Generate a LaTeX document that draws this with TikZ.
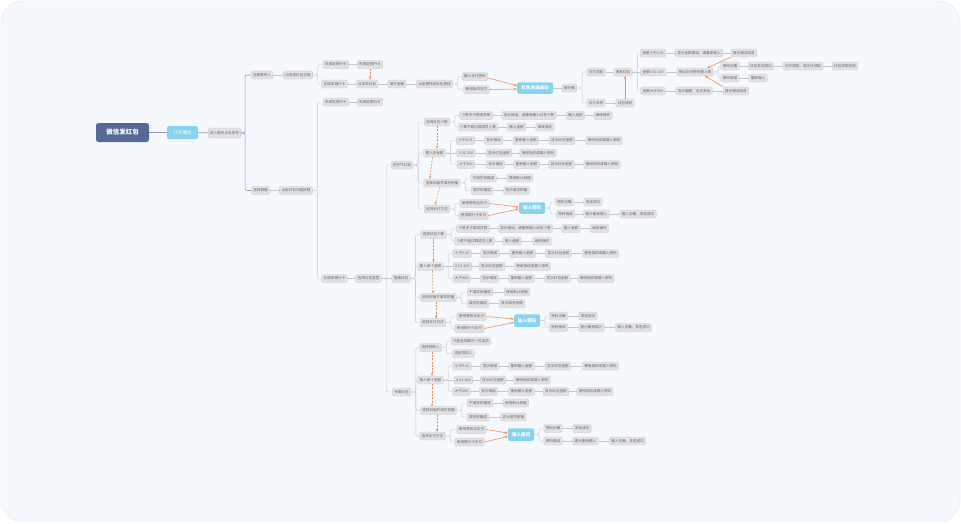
\documentclass[tikz,border=0pt]{standalone}
\usepackage{fontspec}
\setmainfont{Noto Sans CJK SC}
\usetikzlibrary{arrows.meta}

\definecolor{panelbg}{RGB}{245,249,254}
\definecolor{panelline}{RGB}{228,234,243}
\definecolor{rootblue}{RGB}{86,105,148}
\definecolor{skyblue}{RGB}{136,212,238}
\definecolor{boxfill}{RGB}{226,226,228}
\definecolor{boxline}{RGB}{196,197,201}
\definecolor{boxtext}{RGB}{100,100,105}
\definecolor{linkgray}{RGB}{192,200,214}
\definecolor{trunkblue}{RGB}{140,154,184}
\definecolor{floworange}{RGB}{241,138,78}

\begin{document}
\begin{tikzpicture}[
        x=1pt, y=-1pt,
        box/.style={draw=boxline, fill=boxfill, rounded corners=1.5pt, line width=0.35pt,
            inner xsep=2pt, inner ysep=0pt, minimum height=8pt,
            font=\fontsize{3.6}{4}\selectfont, text=boxtext},
        rootbox/.style={fill=rootblue, rounded corners=2.5pt, minimum width=53pt, minimum height=19pt,
            font=\fontsize{6.5}{7}\selectfont\bfseries, text=white},
        skybox/.style={fill=skyblue, rounded corners=2pt, minimum width=26pt, minimum height=11.5pt,
            inner xsep=3pt, font=\fontsize{4.5}{5}\selectfont\bfseries, text=white},
        link/.style={draw=linkgray, line width=0.4pt, rounded corners=2pt},
        trunk/.style={link, draw=trunkblue, line width=0.6pt},
        flow/.style={-{Stealth[length=2.8pt, width=2.4pt]}, draw=floworange, line width=0.55pt},
        seq/.style={flow, dash pattern=on 2pt off 1.3pt}
    ]
    \useasboundingbox (0,0) rectangle (961,523);
    \fill[white] (0,0) rectangle (961,523);
    \draw[panelline, fill=panelbg, rounded corners=22pt] (1,1) rectangle (960,522);

    % --- 主干 ---
    \node[rootbox] (root) at (122.5,132.5) {微信发红包};
    \node[skybox, minimum width=31pt, minimum height=13pt, font=\fontsize{4.6}{5}\selectfont] (open) at (182.5,132.5) {打开微信};
    \node[box, minimum height=10pt] (plus) at (224.5,133) {进入聊天点击加号};

    % --- 联系人 ---
    \node[box] (A1) at (262,75) {选择联系人};
    \node[box] (A2) at (298,75) {点击发红包功能};
    \node[box] (A3) at (336,64.5) {未绑定银行卡};
    \node[box] (A4) at (370,64.5) {先绑定银行卡};
    \node[box] (A5) at (334.5,84) {已绑定银行卡};
    \node[box] (A6) at (367,84) {点击发红包};
    \node[box] (A7) at (397,84) {填写金额};
    \node[box] (A8) at (434.5,84) {点击塞钱进红包按钮};
    \node[box] (A9) at (475,76.5) {输入支付密码};
    \node[box] (A10) at (476.5,89.5) {使用指纹支付};
    \node[skybox, minimum width=36pt] (A11) at (535,88) {红包发送成功};
    \node[box] (A12) at (569.5,88) {聊天框};
    \node[box] (A13) at (596,72) {对方领取};
    \node[box] (A14) at (596,103) {对方未领};
    \node[box] (A15) at (623,72) {再发红包};
    \node[box] (A16) at (625,103) {红包退回};
    \node[box] (A17) at (653,53) {金额小于0.01};
    \node[box] (A18) at (653,72) {金额0.01-200};
    \node[box] (A19) at (653,91) {金额大于200};
    \node[box] (A20) at (699,53) {显示金额错误，请重新输入};
    \node[box] (A21) at (744,53) {提示错误信息};
    \node[box] (A22) at (695,72) {弹出支付密码输入框};
    \node[box] (A23) at (730,66) {密码正确};
    \node[box] (A24) at (761,66) {红包发送成功};
    \node[box] (A25) at (803,66) {对方领取，显示已领取};
    \node[box] (A26) at (845,66) {红包领取完成};
    \node[box] (A27) at (730,78) {密码错误};
    \node[box] (A28) at (758,78) {重新输入};
    \node[box] (A29) at (694,91) {显示超额，无法发出};
    \node[box] (A30) at (736,91) {提示错误信息};

    % --- 群聊 ---
    \node[box] (B1) at (260.5,190.5) {选择群聊};
    \node[box] (B2) at (296,190.5) {点击红包功能按钮};
    \node[box] (B3) at (336,102) {未绑定银行卡};
    \node[box] (B4) at (370,102) {先绑定银行卡};
    \node[box] (B5) at (334.5,278.5) {已绑定银行卡};
    \node[box] (B6) at (368.5,278.5) {选择红包类型};
    \node[box] (C0) at (402,165) {拼手气红包};
    \node[box] (D0) at (401,278.5) {普通红包};
    \node[box] (E0) at (401.5,392) {专属红包};

    % --- 拼手气红包 ---
    \node[box] (C1) at (437,122) {选择红包个数};
    \node[box] (C2) at (434.5,153) {输入总金额};
    \node[box] (C3) at (442,183) {选择封面并填写祝福};
    \node[box] (C4) at (437,209) {选择支付方式};
    \node[box] (C1a) at (476,115.5) {个数多于群成员数};
    \node[box] (C1b) at (529,115.5) {显示错误，请重新输入红包个数};
    \node[box] (C1c) at (575.5,115.5) {输入金额};
    \node[box] (C1d) at (603,115.5) {继续操作};
    \node[box] (C1e) at (478,127) {个数不超过群成员人数};
    \node[box] (C1f) at (516.5,127) {输入金额};
    \node[box] (C1g) at (545,127) {继续操作};
    \node[box] (C2a) at (465.5,140.5) {小于0.01};
    \node[box] (C2b) at (493.5,140.5) {显示错误};
    \node[box] (C2c) at (526,140.5) {重新输入金额};
    \node[box] (C2d) at (562,140.5) {显示红包金额};
    \node[box] (C2e) at (604,140.5) {使用指纹或输入密码};
    \node[box] (C2f) at (466,153) {0.01-200};
    \node[box] (C2g) at (499,153) {显示红包金额};
    \node[box] (C2h) at (538,153) {使用指纹或输入密码};
    \node[box] (C2i) at (466,164.5) {大于200};
    \node[box] (C2j) at (495.5,164.5) {显示错误};
    \node[box] (C2k) at (526.5,164.5) {重新输入金额};
    \node[box] (C2l) at (561.5,164.5) {显示红包金额};
    \node[box] (C2m) at (602,164.5) {使用指纹或输入密码};
    \node[box] (C3a) at (483.5,178) {不填写祝福语};
    \node[box] (C3b) at (520,178) {使用默认祝福};
    \node[box] (C3c) at (482,190.5) {填写祝福语};
    \node[box] (C3d) at (516.5,190.5) {显示填写祝福};
    \node[box] (C4a) at (474.5,203.5) {使用零钱包支付};
    \node[box] (C4b) at (473.5,215.5) {使用银行卡支付};
    \node[skybox] (C5) at (532,208) {输入密码};
    \node[box] (C5a) at (564.5,202) {密码正确};
    \node[box] (C5b) at (593,202) {发送成功};
    \node[box] (C5c) at (565.5,214) {密码错误};
    \node[box] (C5d) at (596.5,214) {提示重新输入};
    \node[box] (C5e) at (638,214) {输入正确，发送成功};

    % --- 普通红包 ---
    \node[box] (D1) at (433.5,234.5) {选择红包个数};
    \node[box] (D2) at (430.5,266.5) {输入单个金额};
    \node[box] (D3) at (438,297.5) {选择封面并填写祝福};
    \node[box] (D4) at (433,322.5) {选择支付方式};
    \node[box] (D1a) at (473,228.5) {个数多于群成员数};
    \node[box] (D1b) at (525.5,228.5) {显示错误，请重新输入红包个数};
    \node[box] (D1c) at (571,228.5) {输入金额};
    \node[box] (D1d) at (599.5,228.5) {继续操作};
    \node[box] (D1e) at (474.5,241) {个数不超过群成员人数};
    \node[box] (D1f) at (512,241) {输入金额};
    \node[box] (D1g) at (542,241) {继续操作};
    \node[box] (D2a) at (462,253.5) {小于0.01};
    \node[box] (D2b) at (490,253.5) {显示错误};
    \node[box] (D2c) at (522.5,253.5) {重新输入金额};
    \node[box] (D2d) at (558.5,253.5) {显示红包金额};
    \node[box] (D2e) at (600.5,253.5) {使用指纹或输入密码};
    \node[box] (D2f) at (462.5,266.5) {0.01-200};
    \node[box] (D2g) at (492,266.5) {显示红包金额};
    \node[box] (D2h) at (532.5,266.5) {使用指纹或输入密码};
    \node[box] (D2i) at (461.5,278.5) {大于200};
    \node[box] (D2j) at (489.5,278.5) {显示错误};
    \node[box] (D2k) at (521.5,278.5) {重新输入金额};
    \node[box] (D2l) at (557.5,278.5) {显示红包金额};
    \node[box] (D2m) at (596,278.5) {使用指纹或输入密码};
    \node[box] (D3a) at (480,292) {不填写祝福语};
    \node[box] (D3b) at (517,292) {使用默认祝福};
    \node[box] (D3c) at (478,303.5) {填写祝福语};
    \node[box] (D3d) at (512,303.5) {显示填写祝福};
    \node[box] (D4a) at (471.5,316.5) {使用零钱包支付};
    \node[box] (D4b) at (469.5,328.5) {使用银行卡支付};
    \node[skybox, minimum height=12.5pt] (D5) at (527,320.5) {输入密码};
    \node[box] (D5a) at (558.5,316) {密码正确};
    \node[box] (D5b) at (588,316) {发送成功};
    \node[box] (D5c) at (558.5,327.5) {密码错误};
    \node[box] (D5d) at (591.5,327.5) {提示重新输入};
    \node[box] (D5e) at (633.5,327.5) {输入正确，发送成功};

    % --- 专属红包 ---
    \node[box] (E1) at (430.5,347.5) {选择领取人};
    \node[box] (E2) at (430.5,380) {输入单个金额};
    \node[box] (E3) at (438.5,410.5) {选择封面并填写祝福};
    \node[box] (E4) at (432.5,436) {选择支付方式};
    \node[box] (E1a) at (471,341) {只能选择群内一位成员};
    \node[box] (E1b) at (463.5,353.5) {选定领取人};
    \node[box] (E2a) at (462,366) {小于0.01};
    \node[box] (E2b) at (490,366) {显示错误};
    \node[box] (E2c) at (521.5,366) {重新输入金额};
    \node[box] (E2d) at (558,366) {显示红包金额};
    \node[box] (E2e) at (600.5,366) {使用指纹或输入密码};
    \node[box] (E2f) at (463.5,380) {0.01-200};
    \node[box] (E2g) at (493,380) {显示红包金额};
    \node[box] (E2h) at (532,380) {使用指纹或输入密码};
    \node[box] (E2i) at (461.5,391.5) {大于200};
    \node[box] (E2j) at (488.5,391.5) {显示错误};
    \node[box] (E2k) at (521.5,391.5) {重新输入金额};
    \node[box] (E2l) at (556,391.5) {显示红包金额};
    \node[box] (E2m) at (595,391.5) {使用指纹或输入密码};
    \node[box] (E3a) at (480,403) {不填写祝福语};
    \node[box] (E3b) at (516,403) {使用默认祝福};
    \node[box] (E3c) at (478,417) {填写祝福语};
    \node[box] (E3d) at (513.5,417) {显示填写祝福};
    \node[box] (E4a) at (471.5,429.5) {使用零钱包支付};
    \node[box] (E4b) at (469.5,442) {使用银行卡支付};
    \node[skybox, minimum height=12.5pt] (E5) at (521,434.5) {输入密码};
    \node[box] (E5a) at (553,428.5) {密码正确};
    \node[box] (E5b) at (582,428.5) {发送成功};
    \node[box] (E5c) at (553,441) {密码错误};
    \node[box] (E5d) at (585.5,441) {提示重新输入};
    \node[box] (E5e) at (627.5,441) {输入正确，发送成功};

    % --- 连线 ---
    \draw[trunk] (root) -- (open);
    \draw[trunk] (open) -- (plus);
    \draw[trunk] (plus.east) -- ++(4,0) |- (A1.west);
    \draw[trunk] (plus.east) -- ++(4,0) |- (B1.west);

    \foreach \a/\b in {A1/A2, A3/A4, A5/A6, A6/A7, A7/A8, A11/A12, A13/A15, A14/A16,
            A15/A18, A17/A20, A20/A21, A18/A22, A23/A24, A24/A25, A25/A26, A27/A28,
            A19/A29, A29/A30, B1/B2, B3/B4, B5/B6, B6/D0,
            C1a/C1b, C1b/C1c, C1c/C1d, C1e/C1f, C1f/C1g, C2a/C2b, C2b/C2c, C2c/C2d, C2d/C2e,
            C2/C2f, C2f/C2g, C2g/C2h, C2i/C2j, C2j/C2k, C2k/C2l, C2l/C2m, C3a/C3b, C3c/C3d,
            C5a/C5b, C5c/C5d, C5d/C5e,
            D1a/D1b, D1b/D1c, D1c/D1d, D1e/D1f, D1f/D1g, D2a/D2b, D2b/D2c, D2c/D2d, D2d/D2e,
            D2/D2f, D2f/D2g, D2g/D2h, D2i/D2j, D2j/D2k, D2k/D2l, D2l/D2m, D3a/D3b, D3c/D3d,
            D5a/D5b, D5c/D5d, D5d/D5e,
            E2a/E2b, E2b/E2c, E2c/E2d, E2d/E2e, E2/E2f, E2f/E2g, E2g/E2h,
            E2i/E2j, E2j/E2k, E2k/E2l, E2l/E2m, E3a/E3b, E3c/E3d,
            E5a/E5b, E5c/E5d, E5d/E5e}
        \draw[link] (\a) -- (\b);

    \foreach \a/\b in {A2/A3, A2/A5, A8/A9, A8/A10, A12/A13, A12/A14, A15/A17, A15/A19,
            A22/A23, A22/A27, B2/B3, B2/B5, B6/C0, B6/E0,
            C0/C1, C0/C2, C0/C3, C0/C4, C1/C1a, C1/C1e, C2/C2a, C2/C2i, C3/C3a, C3/C3c,
            C4/C4a, C4/C4b, C5/C5a, C5/C5c,
            D0/D1, D0/D2, D0/D3, D0/D4, D1/D1a, D1/D1e, D2/D2a, D2/D2i, D3/D3a, D3/D3c,
            D4/D4a, D4/D4b, D5/D5a, D5/D5c,
            E0/E1, E0/E2, E0/E3, E0/E4, E1/E1a, E1/E1b, E2/E2a, E2/E2i, E3/E3a, E3/E3c,
            E4/E4a, E4/E4b, E5/E5a, E5/E5c}
        \draw[link] (\a.east) -- ++(5,0) |- (\b.west);

    % --- 汇合箭头 ---
    \draw[flow] ([yshift=-1.5pt]A9.east) -- ([yshift=2.5pt]A11.west);
    \draw[flow] (A10.east) -- ([yshift=-1pt]A11.west);
    \draw[flow] (A16.north) -- (A16.north |- A15.south);
    \draw[flow] (A21.south west) -- ([xshift=-6pt]A22.north east);
    \draw[flow] (A30.north west) -- ([xshift=-8pt]A22.south east);
    \draw[flow] (C4a.east) -- ([yshift=1pt]C5.west);
    \draw[flow] (C4b.east) -- ([yshift=-1pt]C5.west);
    \draw[flow] (D4a.east) -- ([yshift=1.5pt]D5.west);
    \draw[flow] (D4b.east) -- ([yshift=-2pt]D5.west);
    \draw[flow] (E4a.east) -- ([yshift=1.5pt]E5.west);
    \draw[flow] (E4b.east) -- ([yshift=-2pt]E5.west);

    % --- 步骤顺序 ---
    \draw[seq] (A4.south) -- (A4.south |- A6.north);
    \draw[seq] (C1.south) -- (C1.south |- C2.north);
    \draw[seq] ([xshift=-2pt]C2.south) -- ([xshift=-12pt]C3.north);
    \draw[seq] ([xshift=-2pt]C3.south) -- ([xshift=-2pt]C4.north);
    \draw[seq] (D1.south) -- (D1.south |- D2.north);
    \draw[seq] ([xshift=2pt]D2.south) -- ([xshift=-5pt]D3.north);
    \draw[seq] ([xshift=-2pt]D3.south) -- ([xshift=3pt]D4.north);
    \draw[seq] ([xshift=1.5pt]E1.south) -- ([xshift=1.5pt]E2.north);
    \draw[seq] ([xshift=1.5pt]E2.south) -- ([xshift=-6.5pt]E3.north);
    \draw[seq] ([xshift=-1.5pt]E3.south) -- ([xshift=4.5pt]E4.north);
\end{tikzpicture}
\end{document}
